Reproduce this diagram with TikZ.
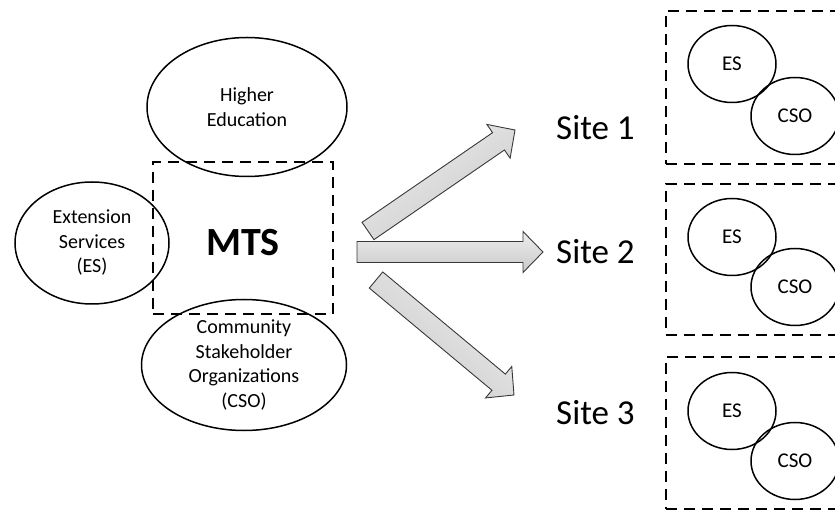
\documentclass[tikz,border=0pt]{standalone}
\usepackage{fontspec}
\setmainfont{Carlito}
\usetikzlibrary{shapes.geometric,calc}
\definecolor{arrline}{gray}{0.22}
\definecolor{arrtop}{gray}{0.93}
\definecolor{arrbot}{gray}{0.79}
\tikzset{
  bigell/.style={draw,ellipse,line width=1.5pt,inner sep=0pt,align=center,font=\fontsize{20}{24.5}\selectfont},
  smallell/.style={draw,ellipse,line width=1.5pt,inner sep=0pt,minimum width=88pt,minimum height=77pt,font=\fontsize{21}{25}\selectfont},
  dashbox/.style={draw,rectangle,dash pattern=on 11pt off 7pt,line width=1.7pt},
  sitelab/.style={font=\fontsize{35}{40}\selectfont,anchor=west,inner sep=0pt},
  blockarr/.style={draw=arrline,line width=0.9pt,top color=arrtop,bottom color=arrbot,
    to path={($(\tikztostart)!10.5pt!90:(\tikztotarget)$)
      -- ($(\tikztotarget)!20pt!(\tikztostart)!10.5pt!90:(\tikztotarget)$)
      -- ($(\tikztotarget)!20pt!(\tikztostart)!20.5pt!90:(\tikztotarget)$)
      -- (\tikztotarget)
      -- ($(\tikztotarget)!20pt!(\tikztostart)!20.5pt!-90:(\tikztotarget)$)
      -- ($(\tikztotarget)!20pt!(\tikztostart)!10.5pt!-90:(\tikztotarget)$)
      -- ($(\tikztostart)!10.5pt!-90:(\tikztotarget)$) -- cycle}},
}

\begin{document}
\begin{tikzpicture}[x=1pt,y=-1pt]
  \useasboundingbox (0,0) rectangle (835,510);
  \clip (0,0) rectangle (835,510);
  % MTS and its partners
  \node[dashbox,minimum width=180pt,minimum height=152pt] (mts) at (243,238) {};
  \node[font=\fontsize{40}{44}\selectfont\bfseries] (mtslab) at (243,243) {MTS};
  \node[bigell,minimum width=200pt,minimum height=139pt] (he) at (247,107) {Higher\\Education};
  \node[bigell,minimum width=154pt,minimum height=122pt] (es) at (92,243) {Extension\\Services\\(ES)};
  \node[bigell,minimum width=205pt,minimum height=131pt] (cso) at (244,365) {Community\\Stakeholder\\Organizations\\(CSO)};
  % sites
  \node[sitelab] (site1) at (556,128) {Site 1};
  \node[sitelab] (site2) at (556,252) {Site 2};
  \node[sitelab] (site3) at (556,413) {Site 3};
  \node[dashbox,anchor=north west,minimum width=200pt,minimum height=153pt] (box1) at (665,10) {};
  \node[dashbox,anchor=north west,minimum width=200pt,minimum height=151pt] (box2) at (665,183) {};
  \node[dashbox,anchor=north west,minimum width=200pt,minimum height=152pt] (box3) at (665,356) {};
  \node[smallell] (es1) at (732,64) {ES};
  \node[smallell] (cso1) at (795,116) {CSO};
  \node[smallell] (es2) at (732,237) {ES};
  \node[smallell] (cso2) at (795,287) {CSO};
  \node[smallell] (es3) at (732,411) {ES};
  \node[smallell] (cso3) at (795,461) {CSO};
  % block arrows
  \coordinate (tail1) at (368,231);
  \coordinate (tip1) at (515,130);
  \coordinate (tail2) at (357,252);
  \coordinate (tip2) at (543,252);
  \coordinate (tail3) at (376,280);
  \coordinate (tip3) at (514,395);
  \draw[blockarr,shading angle=34] (tail1) to (tip1);
  \draw[blockarr] (tail2) to (tip2);
  \draw[blockarr,shading angle=-40] (tail3) to (tip3);
\end{tikzpicture}
\end{document}
